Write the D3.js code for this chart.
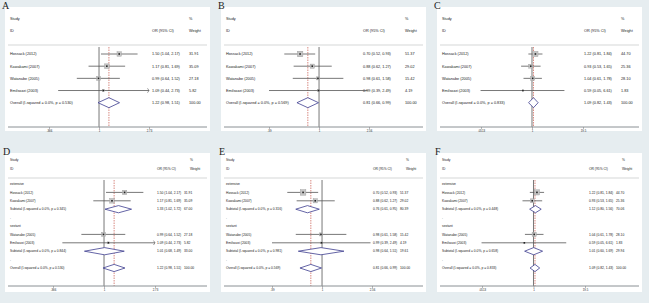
<!DOCTYPE html>
<html>
<head>
<meta charset="utf-8">
<script src="https://cdn.jsdelivr.net/npm/d3@7"></script>
<style>
  body { margin: 0; background: #fff; }
  text { font-family: "Liberation Sans", Arial, sans-serif; fill: #222; }
</style>
</head>
<body>
<svg id="fig" width="649" height="303"></svg>
<script>
// ---- data ----
const studies = ["Hossack (2012)", "Kawakami (2007)", "Watanabe (2005)", "Emilsozzi (2003)"];
const groups = ["extensive", "sextant"];
const groupOf = [0, 0, 1, 1];

// A / D
const orA = [1.50, 1.17, 0.99, 1.09];
const loA = [1.04, 0.81, 0.64, 0.44];
const hiA = [2.17, 1.69, 1.52, 2.73];
const wtA = [31.91, 35.09, 27.18, 5.82];
const overallA = [1.22, 0.98, 1.51], pA = "0.530";
const subOrD = [1.33, 1.01], subLoD = [1.02, 0.68], subHiD = [1.72, 1.49];
const subWtD = [67.00, 33.00], subPD = ["0.345", "0.844"];
const ticksA = [0.366, 1, 2.73], tickLabA = [".366", "1", "2.73"];

// B / E
const orB = [0.70, 0.88, 0.98, 0.99];
const loB = [0.52, 0.62, 0.61, 0.39];
const hiB = [0.93, 1.27, 1.58, 2.49];
const wtB = [51.37, 29.02, 15.42, 4.19];
const overallB = [0.81, 0.66, 0.99], pB = "0.569";
const subOrE = [0.76, 0.98], subLoE = [0.61, 0.64], subHiE = [0.95, 1.51];
const subWtE = [80.39, 19.61], subPE = ["0.316", "0.981"];
const ticksB = [0.39, 1, 2.56], tickLabB = [".39", "1", "2.56"];

// C / F
const orC = [1.22, 0.93, 1.04, 0.59];
const loC = [0.81, 0.53, 0.61, 0.05];
const hiC = [1.84, 1.65, 1.78, 6.61];
const wtC = [44.70, 25.36, 28.10, 1.83];
const overallC = [1.09, 0.82, 1.43], pC = "0.833";
const subOrF = [1.12, 1.01], subLoF = [0.80, 0.60], subHiF = [1.56, 1.69];
const subWtF = [70.06, 29.94], subPF = ["0.448", "0.658"];
const ticksC = [0.0513, 1, 19.5], tickLabC = [".0513", "1", "19.5"];

// ---- layout ----
const f2 = d3.format(".2f");
const svg = d3.select("#fig");
svg.append("rect").attr("width", 649).attr("height", 303).attr("fill", "#e6edf0");

const panels = [
  { id: "A", ox: 0,   oy: 0,   sub: false, or: orA, lo: loA, hi: hiA, wt: wtA, all: overallA, p: pA, ticks: ticksA, labs: tickLabA, xr: [49, 149], ciX: 152 },
  { id: "B", ox: 216, oy: 0,   sub: false, or: orB, lo: loB, hi: hiB, wt: wtB, all: overallB, p: pB, ticks: ticksB, labs: tickLabB, xr: [53, 153], ciX: 147 },
  { id: "C", ox: 432, oy: 0,   sub: false, or: orC, lo: loC, hi: hiC, wt: wtC, all: overallC, p: pC, ticks: ticksC, labs: tickLabC, xr: [49, 151], ciX: 152 },
  { id: "D", ox: 0,   oy: 150, sub: true, or: orA, lo: loA, hi: hiA, wt: wtA, all: overallA, p: pA, ticks: ticksA, labs: tickLabA, xr: [53, 155], ciX: 157,
    sOr: subOrD, sLo: subLoD, sHi: subHiD, sWt: subWtD, sP: subPD },
  { id: "E", ox: 216, oy: 150, sub: true, or: orB, lo: loB, hi: hiB, wt: wtB, all: overallB, p: pB, ticks: ticksB, labs: tickLabB, xr: [56, 156], ciX: 157,
    sOr: subOrE, sLo: subLoE, sHi: subHiE, sWt: subWtE, sP: subPE },
  { id: "F", ox: 432, oy: 150, sub: true, or: orC, lo: loC, hi: hiC, wt: wtC, all: overallC, p: pC, ticks: ticksC, labs: tickLabC, xr: [50, 153], ciX: 157,
    sOr: subOrF, sLo: subLoF, sHi: subHiF, sWt: subWtF, sP: subPF }
];

function buildRows(p) {
  const rows = [];
  const study = i => ({ type: "study", label: studies[i], or: p.or[i], lo: p.lo[i], hi: p.hi[i], w: p.wt[i] });
  if (!p.sub) {
    studies.forEach((s, i) => rows.push(study(i)));
  } else {
    groups.forEach((g, gi) => {
      rows.push({ type: "group", label: g });
      studies.forEach((s, i) => { if (groupOf[i] === gi) rows.push(study(i)); });
      rows.push({ type: "diamond", label: `Subtotal  (I-squared = 0.0%, p = ${p.sP[gi]})`,
                  or: p.sOr[gi], lo: p.sLo[gi], hi: p.sHi[gi], w: p.sWt[gi] });
      rows.push({ type: "blank", label: "." });
    });
  }
  rows.push({ type: "diamond", label: `Overall  (I-squared = 0.0%, p = ${p.p})`,
              or: p.all[0], lo: p.all[1], hi: p.all[2], w: 100 });
  return rows;
}

panels.forEach(p => {
  const g = svg.append("g").attr("transform", `translate(${p.ox},${p.oy})`);
  const top = !p.sub;
  const box = top ? { y0: 7, y1: 131 } : { y0: 3, y1: 142 };
  const hdr = top ? { study: 19, id: 31, sep: 45, r0: 54, r1: 102.7, axis: 127 }
                  : { study: 10, id: 19, sep: 28, r0: 34, r1: 118, axis: 136 };
  const fs = top ? 3.8 : 3.3;
  const wX = top ? 189 : 184, wHX = top ? 189 : 190;

  g.append("rect").attr("x", 5).attr("y", box.y0).attr("width", 205).attr("height", box.y1 - box.y0).attr("fill", "#fff");

  g.append("text").attr("x", top ? 2 : 3).attr("y", top ? 9 : 5)
    .style("font-family", "'Liberation Serif', 'DejaVu Serif', serif").style("font-size", "10px").text(p.id);

  const rows = buildRows(p);
  const x = d3.scaleLog().domain([p.ticks[0], p.ticks[2]]).range(p.xr);
  const y = d3.scaleLinear().domain([0, rows.length - 1]).range([hdr.r0, hdr.r1]);

  // header
  const txt = (tx, ty, s) => g.append("text").attr("x", tx).attr("y", ty).attr("dy", "0.35em").style("font-size", fs + "px").text(s);
  txt(10, hdr.study, "Study");
  txt(10, hdr.id, "ID");
  txt(p.ciX, hdr.id, "OR (95% CI)");
  txt(wHX, hdr.study, "%");
  txt(wHX, hdr.id, "Weight");
  g.append("line").attr("x1", 8).attr("x2", 207).attr("y1", hdr.sep).attr("y2", hdr.sep)
    .attr("stroke", "#b8bcbe").attr("stroke-width", 0.6);

  // reference lines
  g.append("line").attr("x1", x(1)).attr("x2", x(1)).attr("y1", hdr.sep + 2).attr("y2", hdr.axis)
    .attr("stroke", "#555").attr("stroke-width", 0.8);
  g.append("line").attr("x1", x(p.all[0])).attr("x2", x(p.all[0])).attr("y1", hdr.sep + 2).attr("y2", hdr.axis)
    .attr("stroke", "#c0392b").attr("stroke-width", 0.6).attr("stroke-dasharray", "1.5,1");

  // axis
  g.append("line").attr("x1", 8).attr("x2", 207).attr("y1", hdr.axis).attr("y2", hdr.axis)
    .attr("stroke", "#8a9094").attr("stroke-width", 1);
  const ax = g.append("g").attr("transform", `translate(0,${hdr.axis})`)
    .call(d3.axisBottom(x).tickValues(p.ticks).tickSize(2).tickPadding(1).tickFormat((d, i) => p.labs[i]));
  ax.select(".domain").remove();
  ax.selectAll("line").attr("stroke", "#777").attr("stroke-width", 0.5);
  ax.selectAll("text").style("font-size", "2.8px").attr("fill", "#333");

  // rows
  rows.forEach((r, i) => {
    const yy = y(i);
    txt(10, yy, r.label);
    if (r.type === "group" || r.type === "blank") return;
    txt(p.ciX, yy, `${f2(r.or)} (${f2(r.lo)}, ${f2(r.hi)})`);
    txt(wX, yy, f2(r.w));
    if (r.type === "study") {
      const xhi = Math.min(x(r.hi), x.range()[1]);
      g.append("line").attr("x1", x(r.lo)).attr("x2", xhi).attr("y1", yy).attr("y2", yy)
        .attr("stroke", "#555").attr("stroke-width", 0.8);
      if (r.hi >= p.ticks[2] - 1e-9) {
        g.append("path").attr("d", `M${xhi - 1.5},${yy - 2.2} L${xhi},${yy} L${xhi - 1.5},${yy + 2.2}`)
          .attr("fill", "none").attr("stroke", "#555").attr("stroke-width", 0.6);
      }
      const s = 0.78 * Math.sqrt(r.w);
      g.append("rect").attr("x", x(r.or) - s / 2).attr("y", yy - s / 2).attr("width", s).attr("height", s)
        .attr("fill", "#c4c4c4").attr("stroke", "#999").attr("stroke-width", 0.4);
      g.append("rect").attr("x", x(r.or) - 0.8).attr("y", yy - 0.8).attr("width", 1.6).attr("height", 1.6).attr("fill", "#222");
    } else {
      const h = top ? 5 : 3.6;
      g.append("path")
        .attr("d", `M${x(r.lo)},${yy} L${x(r.or)},${yy - h} L${x(r.hi)},${yy} L${x(r.or)},${yy + h} Z`)
        .attr("fill", "#fff").attr("stroke", "#3d3d8f").attr("stroke-width", 0.8);
    }
  });
});
</script>
</body>
</html>
